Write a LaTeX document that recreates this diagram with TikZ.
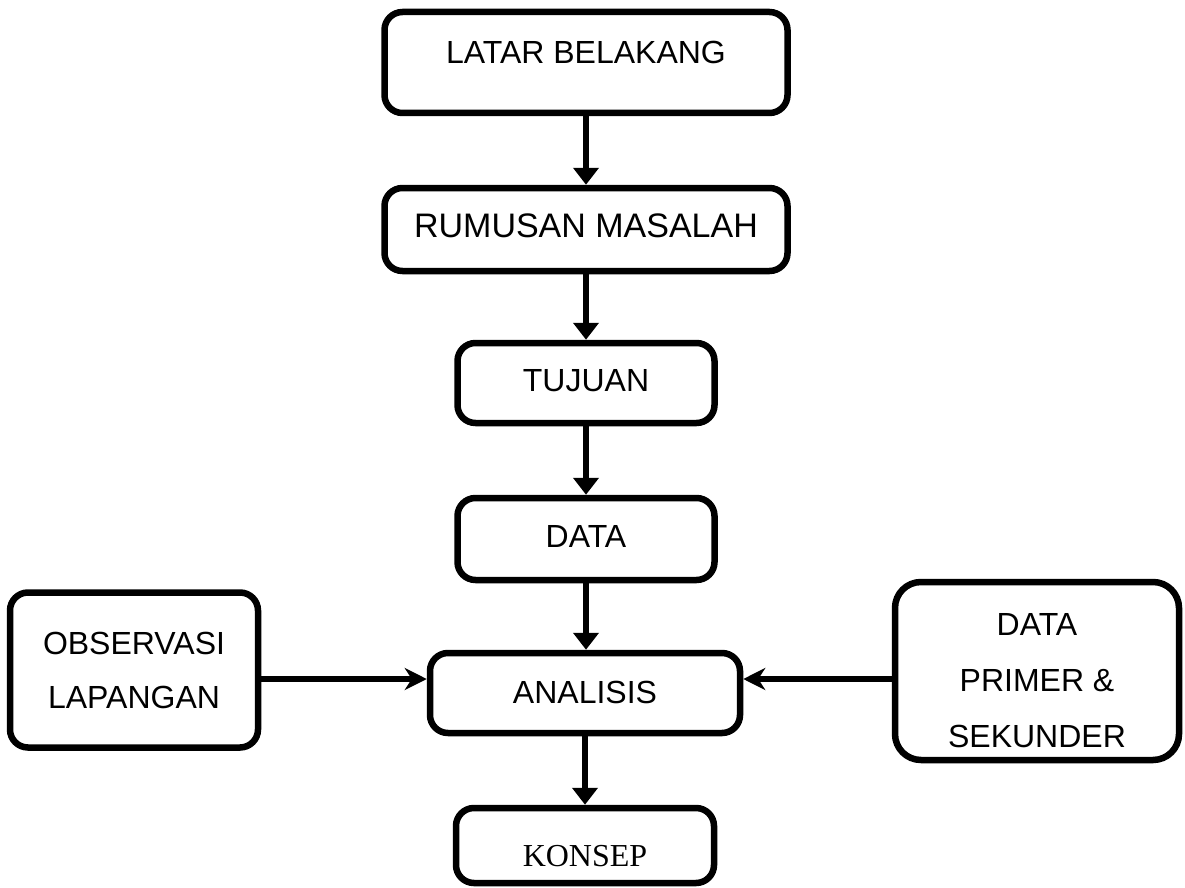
\documentclass[tikz,border=0pt]{standalone}
\usepackage{fontspec}
\setmainfont{Liberation Sans}
\newfontfamily\serifface{Liberation Serif}
\usetikzlibrary{arrows.meta,calc}
\begin{document}
\begin{tikzpicture}[x=1pt,y=-1pt,
  box/.style={draw=black,line width=6.5pt,rounded corners=18pt,rectangle,
    inner sep=0pt,align=center,font=\fontsize{32}{54}\selectfont},
  varrow/.style={line width=6pt,-{Triangle[length=17pt,width=25pt]}},
  harrow/.style={line width=5.5pt,-{Stealth[length=22pt,width=22pt,inset=7pt]}}]
\useasboundingbox (0,0) rectangle (1185,888);
\node[box,minimum width=403pt,minimum height=101pt,text height=23pt,text depth=21pt]
  (latar) at (586,62.5) {LATAR BELAKANG};
\node[box,minimum width=403pt,minimum height=83pt,font=\fontsize{34}{54}\selectfont,text height=25pt,text depth=9pt]
  (rumusan) at (586,229.5) {RUMUSAN MASALAH};
\node[box,minimum width=257pt,minimum height=80pt,text height=23pt,text depth=6pt]
  (tujuan) at (586,383) {TUJUAN};
\node[box,minimum width=257pt,minimum height=82pt,text height=23pt,text depth=6pt]
  (data) at (586,539) {DATA};
\node[box,minimum width=310pt,minimum height=80pt,text height=23pt,text depth=2pt]
  (analisis) at (585,693) {ANALISIS};
\node[box,minimum width=258pt,minimum height=75pt,text height=41pt,text depth=0pt,
  font=\serifface\fontsize{32}{54}\selectfont]
  (konsep) at (585,845.5) {KONSEP};
\node[box,minimum width=248pt,minimum height=155pt]
  (obs) at (134,670) {OBSERVASI\\LAPANGAN};
\node[box,minimum width=284pt,minimum height=178pt,rounded corners=26pt,
  font=\fontsize{32}{56}\selectfont]
  (dps) at (1037,671) {\rule{0pt}{41pt}DATA\\PRIMER \&\\SEKUNDER};
\draw[varrow] (latar.south) -- (rumusan.north);
\draw[varrow] (rumusan.south) -- (tujuan.north);
\draw[varrow] (tujuan.south) -- (data.north);
\draw[varrow] (data.south) -- (data.south |- analisis.north);
\draw[varrow] (analisis.south) -- (analisis.south -| konsep.north) -- (konsep.north);
\coordinate (hy) at (0,679);
\draw[harrow] (obs.east |- hy) -- (analisis.west |- hy);
\draw[harrow] (dps.west |- hy) -- (analisis.east |- hy);
\end{tikzpicture}
\end{document}
